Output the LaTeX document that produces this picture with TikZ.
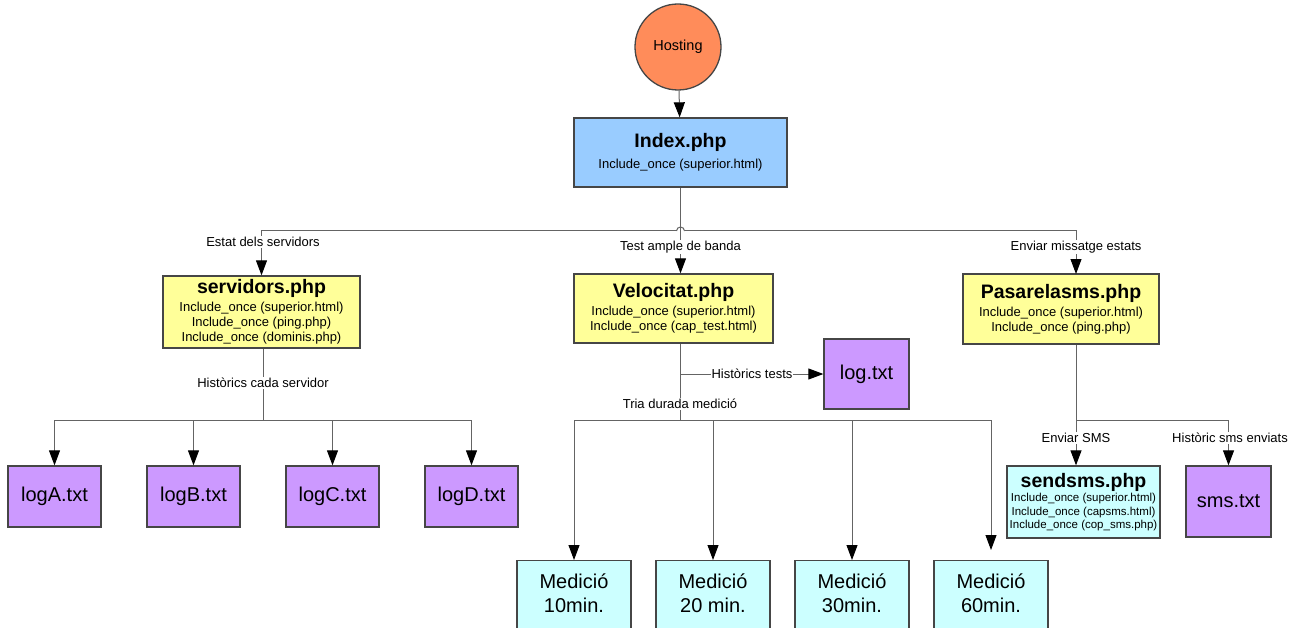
\documentclass[tikz,border=0pt]{standalone}
\usepackage{fontspec}
\setmainfont{Liberation Sans}
\usetikzlibrary{arrows.meta}
\definecolor{hostorange}{RGB}{255,140,90}
\definecolor{indexblue}{RGB}{153,204,255}
\definecolor{phpyellow}{RGB}{255,255,153}
\definecolor{logpurple}{RGB}{204,153,255}
\definecolor{subcyan}{RGB}{204,255,255}
\definecolor{edgegray}{RGB}{70,70,70}
\definecolor{wiregray}{RGB}{100,100,100}

\newcommand{\phpname}[1]{{\fontsize{19.5}{22}\selectfont\bfseries #1}}

\begin{document}
\begin{tikzpicture}[x=1pt, y=-1pt,
    box/.style={draw=edgegray, line width=1.3pt, align=center, inner sep=0pt},
    phpbox/.style={box, fill=phpyellow, font=\fontsize{13}{15}\selectfont},
    file/.style={box, fill=logpurple, font=\fontsize{20}{24}\selectfont},
    medbox/.style={box, fill=subcyan, anchor=north, minimum width=114pt,
      inner ysep=13pt, font=\fontsize{20}{24}\selectfont},
    wire/.style={draw=wiregray, line width=1pt},
    arr/.style={wire, -{Triangle[length=15pt, width=11pt, color=black]}},
    lbl/.style={fill=white, inner sep=1pt, font=\fontsize{13}{15}\selectfont}]
    \clip (0,0) rectangle (1305,628);

    % top of the site
    \node[circle, draw=edgegray, line width=1.3pt, fill=hostorange, minimum size=86pt,
      inner sep=0pt, font=\fontsize{14.5}{16}\selectfont] (host) at (678,47) {Hosting};
    \node[box, fill=indexblue, minimum width=213pt, minimum height=69pt,
      font=\fontsize{13}{15}\selectfont] (index) at (680.5,152.5)
      {\phpname{Index.php}\\[6pt] Include\_once (superior.html)};

    % second level pages
    \node[phpbox, minimum width=197pt, minimum height=72pt] (serv) at (261.5,312)
      {\phpname{servidors.php}\\[3pt] Include\_once (superior.html)\\
       Include\_once (ping.php)\\ Include\_once (dominis.php)};
    \node[phpbox, minimum width=199pt, minimum height=69pt] (velo) at (673.5,308.5)
      {\phpname{Velocitat.php}\\[3pt] Include\_once (superior.html)\\
       Include\_once (cap\_test.html)};
    \node[phpbox, minimum width=196pt, minimum height=70pt] (pasa) at (1061,309)
      {\phpname{Pasarelasms.php}\\[3pt] Include\_once (superior.html)\\
       Include\_once (ping.php)};

    % log files
    \foreach \n/\x in {A/54.5, B/193.5, C/332.5, D/471.5}
      \node[file, minimum width=93pt, minimum height=61pt] (log\n) at (\x,496.5) {log\n.txt};
    \node[file, minimum width=85pt, minimum height=70pt] (logt) at (866.5,374) {log.txt};
    \node[file, minimum width=85pt, minimum height=71pt] (sms) at (1228.5,501.5) {sms.txt};

    % sms sender
    \node[box, fill=subcyan, minimum width=153pt, minimum height=72pt,
      font=\fontsize{11.5}{13.5}\selectfont] (send) at (1083.5,502)
      {\phpname{sendsms.php}\\[1pt] Include\_once (superior.html)\\
       Include\_once (capsms.html)\\ Include\_once (cop\_sms.php)};

    % measurement lengths
    \foreach \i/\x/\t in {1/574/10min., 2/713/20 min., 3/852/30min., 4/991/60min.}
      \node[medbox] (med\i) at (\x,560) {Medició\\\t\rule[-40pt]{0pt}{0pt}};

    % wires from Index
    \coordinate (hubL) at (676.5,231);
    \coordinate (hubR) at (684.5,231);
    \draw[arr] (host) -- (index);
    \draw[arr] (index.south) -- (index.south |- velo.north);
    \draw[arr] (hubL) -| (serv.north);
    \draw[arr] (hubR) -| (1076,274);
    \draw[wire] (hubL) arc (180:360:4);

    % servidors to its logs
    \coordinate (lhub) at (263,420);
    \draw[wire] (serv.south -| lhub) -- (lhub);
    \foreach \n in {A,B,C,D}
      \draw[arr] (lhub) -| (log\n.north);

    % Velocitat to log and measurements
    \coordinate (vtap) at (680.5,374);
    \coordinate (vhub) at (680.5,420);
    \draw[wire] (velo.south -| vhub) -- (vhub);
    \draw[arr] (vtap) -- (logt);
    \foreach \i in {1,2,3}
      \draw[arr] (vhub) -| (med\i.north);
    \draw[arr, shorten >=10pt] (vhub) -| (med4.north);

    % Pasarelasms to sender and log
    \coordinate (phub) at (1076,420);
    \draw[wire] (pasa.south -| phub) -- (phub);
    \draw[arr] (phub) -- (phub |- send.north);
    \draw[arr] (phub) -| (sms.north);

    % labels on the wires
    \node[lbl] (lservers) at (263,242) {Estat dels servidors};
    \node[lbl] (ltest) at (680.5,247) {Test ample de banda};
    \node[lbl] (lsend) at (1076,247) {Enviar missatge estats};
    \node[lbl] (lhist) at (263,383) {Històrics cada servidor};
    \node[lbl] (ltests) at (752,374) {Històrics tests};
    \node[lbl] (ltria) at (680,404) {Tria durada medició};
    \node[lbl] (lenv) at (1076,438) {Enviar SMS};
    \node[lbl] (lhsms) at (1230,438) {Històric sms enviats};
\end{tikzpicture}
\end{document}
